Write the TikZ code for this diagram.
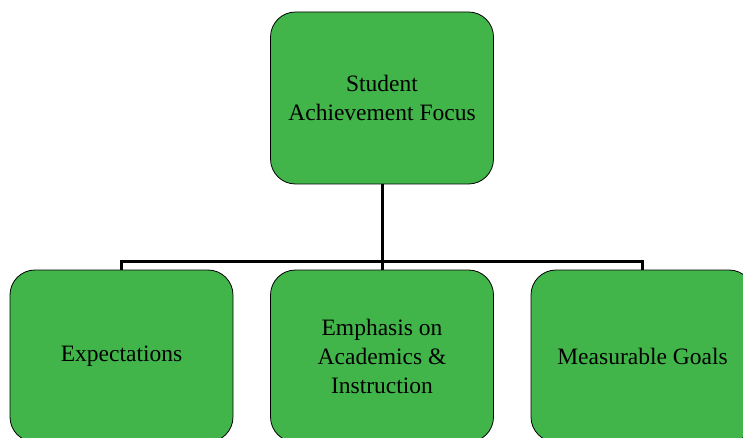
\documentclass[tikz,border=0pt]{standalone}
\usepackage{fontspec}
\setmainfont{Liberation Serif}
\usepackage{xcolor}
\definecolor{boxgreen}{RGB}{66,181,74}

\begin{document}
\begin{tikzpicture}[x=1pt,y=1pt,
  box/.style={draw,rounded corners=25pt,fill=boxgreen,line width=0.8pt,
    minimum width=223pt,minimum height=172pt,align=center,
    font=\fontsize{23.5}{29}\selectfont},
  link/.style={line width=3pt}]
\useasboundingbox (0,0) rectangle (743,-438);
\clip (0,0) rectangle (743,-438);
\node [box] (focus) at (382,-98) {Student\\Achievement Focus};
\node [box] (expect) at (121.5,-356) {Expectations};
\node [box] (emph) at (382,-356) {Emphasis on\\Academics \&\\Instruction};
\node [box] (goals) at (642.5,-356) {Measurable Goals};
\coordinate (fork) at (382,-261);
% connectors
\draw [link] (focus.south) -- (emph.north);
\draw [link] (expect.north) |- (fork) -| (goals.north);
\end{tikzpicture}
\end{document}
